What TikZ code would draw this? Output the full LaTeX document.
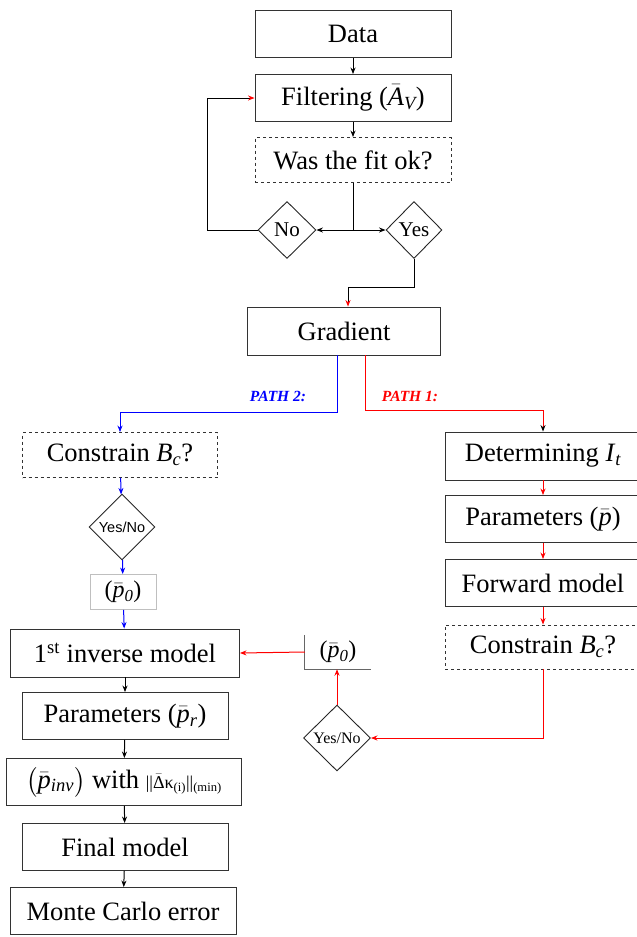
\documentclass[tikz,border=0pt]{standalone}
\usepackage{amsmath}
\usepackage{fontspec}
\setmainfont{Liberation Serif}
\setsansfont{Liberation Sans}
\usetikzlibrary{shapes.geometric,arrows.meta,calc}
\newcommand{\ib}[1]{\ensuremath{\bar{\textit{#1}}}}
\begin{document}
\begin{tikzpicture}[x=1pt,y=-1pt,
  box/.style={draw=black!80,line width=0.9pt,inner sep=0pt,minimum width=196pt,minimum height=47pt,font=\fontsize{26.5}{30}\selectfont},
  dbox/.style={box,dashed},
  dia/.style={draw=black!85,line width=0.9pt,diamond,inner sep=0pt,minimum width=58pt,minimum height=57pt,font=\fontsize{21}{24}\selectfont},
  con/.style={line width=1pt,-{Stealth[length=6.5pt,width=5pt]}},
  pth/.style={font=\fontsize{15.5}{18}\selectfont\bfseries\itshape}]
\useasboundingbox (0,0) rectangle (637,937);
\clip (0,0) rectangle (637,937);
% top
\node[box] (data) at (353,34) {Data};
\node[box] (filt) at (353,98) {Filtering (\ib{A}$_{\textit{V}}$)};
\node[dbox,minimum height=45pt] (fit) at (353,160) {Was the fit ok?};
\node[dia] (no) at (287,230) {No};
\node[dia,minimum width=56pt] (yes) at (414,230) {Yes};
\coordinate (j) at (353,230);
\node[box,minimum width=193pt,minimum height=48pt] (grad) at (344,331) {Gradient};
% labels
\node[pth,text=blue] (p2) at (278,396) {PATH 2:};
\node[pth,text=red] (p1) at (410,396) {PATH 1:};
% left column
\node[dbox,minimum width=195pt,minimum height=45pt] (lcon) at (120,455) {Constrain \textit{B}$_{\textit{c}}$?};
\node[dia,minimum width=66pt,minimum height=66pt,font=\sffamily\fontsize{14.5}{16}\selectfont] (lyn) at (122,527) {Yes/No};
\node[box,draw=black!25,minimum width=66pt,minimum height=35pt,font=\fontsize{24}{28}\selectfont] (lp0) at (123,592) {(\ib{p}$_{\textit{0}}$)};
\node[box,minimum width=229pt,minimum height=48pt] (inv) at (125,653) {1\textsuperscript{st} inverse model};
\node[box,minimum width=206pt] (par) at (125,716) {Parameters (\ib{p}$_{\textit{r}}$)};
\node[box,minimum width=235pt] (pinv) at (124,782) {$\big($\ib{p}$_{\textit{inv}}\big)$ with {\fontsize{18}{20}\selectfont ||\ensuremath{\bar{\text{Δ}}}κ$_{\text{(i)}}$||$_{\text{(min)}}$}};
\node[box,minimum width=206pt] (final) at (125,847) {Final model};
\node[box,minimum width=226pt] (mc) at (123,911) {Monte Carlo error};
% right column
\node[box,minimum height=48pt] (det) at (543,456) {Determining \textit{I}$_{\textit{t}}$};
\node[box] (par1) at (543,519) {Parameters (\ib{p})};
\node[box] (fwd) at (543,583) {Forward model};
\node[dbox,minimum height=44pt] (rcon) at (543,647) {Constrain \textit{B}$_{\textit{c}}$?};
\node[dia,minimum width=67pt,minimum height=66pt,font=\fontsize{16}{18}\selectfont] (ryn) at (337,738) {Yes/No};
\node[inner sep=0pt,minimum width=66pt,minimum height=34pt,font=\fontsize{24}{28}\selectfont] (rp0) at (338,652) {(\ib{p}$_{\textit{0}}$)};
\draw[black!60,line width=0.8pt] (rp0.north west) -- (rp0.south west) -- (rp0.south east);
% connectors top
\draw[con] (data) -- (filt);
\draw[con] (filt) -- (fit);
\draw[line width=1pt] (fit.south) -- (j);
\draw[con] (j) -- (no.east);
\draw[con] (j) -- (yes.west);
\draw[line width=1pt,-{Stealth[length=6.5pt,width=5pt,red]}] (no.west) -- ++(-50,0) |- (filt.west);
\draw[line width=1pt,-{Stealth[length=6.5pt,width=5pt,red]}] (yes.south) -- ++(0,29) -| ([xshift=4pt]grad.north);
% paths
\draw[con,blue] ([xshift=-7pt]grad.south) -- ++(0,57) -| (lcon.north);
\draw[red,line width=1pt,-{Stealth[length=6.5pt,width=5pt,black]}] ([xshift=21pt]grad.south) -- ++(0,55) -| (det.north);
% left
\draw[con,blue] (lcon) -- (lyn);
\draw[con,blue] (lyn) -- (lp0);
\draw[con,blue] (lp0) -- (inv);
\draw[con] (inv) -- (par);
\draw[con] (par) -- (pinv);
\draw[con] (pinv) -- (final);
\draw[con] (final) -- (mc);
% right
\draw[con,red] (det) -- (par1);
\draw[con,red] (par1) -- (fwd);
\draw[con,red] (fwd) -- (rcon);
\draw[con,red] (rcon.south) |- (ryn.east);
\draw[con,red] (ryn.north) -- (rp0.south -| ryn.north);
\draw[con,red] (rp0.west) -- (inv.east);
\end{tikzpicture}
\end{document}
